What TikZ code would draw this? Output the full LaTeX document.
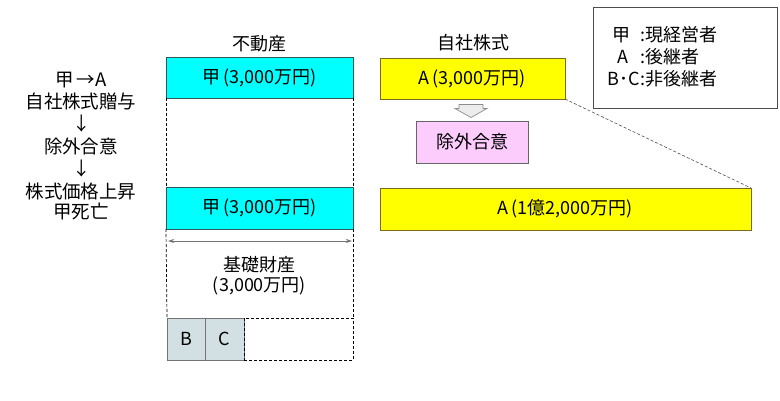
\documentclass[tikz,border=0pt]{standalone}
\usepackage{fontspec}
\setmainfont{Noto Sans CJK JP}
\usetikzlibrary{calc,arrows.meta}
\definecolor{cyanbox}{HTML}{00FFFF}
\definecolor{cyanedge}{HTML}{2A5A5A}
\definecolor{yelbox}{HTML}{FFFF00}
\definecolor{yeledge}{HTML}{7A6A1A}
\definecolor{pinkbox}{HTML}{FCCCFC}
\definecolor{bcbox}{HTML}{D3E0E3}
\definecolor{arrfill}{HTML}{ECECEC}
\begin{document}
\begin{tikzpicture}[x=1pt,y=-1pt,
  every node/.style={inner sep=0pt,outer sep=0pt},
  txt/.style={font=\fontsize{18}{20}\selectfont},
  bigtxt/.style={font=\fontsize{18.5}{20}\selectfont},
  cbox/.style={draw=cyanedge,fill=cyanbox,line width=0.8pt,font=\fontsize{18}{20}\selectfont},
  ybox/.style={draw=yeledge,fill=yelbox,line width=0.8pt,font=\fontsize{18}{20}\selectfont},
  pbox/.style={draw=black!60,fill=pinkbox,line width=0.7pt,font=\fontsize{18}{20}\selectfont},
  gbox/.style={draw=black!55,fill=bcbox,line width=0.7pt,font=\fontsize{18}{20}\selectfont},
  dline/.style={draw=black,line width=0.7pt,dash pattern=on 3pt off 2pt},
  dimarrow/.style={draw=black!55,line width=0.8pt,{Stealth[length=6pt,width=4pt]}-{Stealth[length=6pt,width=4pt]}},
  blockarr/.style={draw=black!45,fill=arrfill,line width=0.7pt,line join=miter}
]
\useasboundingbox (0,0) rectangle (780,400);

% left column
\node[bigtxt] (s1) at (81,80) {甲\,→A};
\node[bigtxt] (s2) at (81,101) {自社株式贈与};
\node[bigtxt] (s3) at (82,124) {↓};
\node[bigtxt] (s4) at (81,146) {除外合意};
\node[bigtxt] (s5) at (82,169) {↓};
\node[bigtxt] (s6) at (81,191) {株式価格上昇};
\node[bigtxt] (s7) at (81,211) {甲死亡};

% headings
\node[txt] (h1) at (259.5,44) {不動産};
\node[txt] (h2) at (473,43) {自社株式};

% real estate column
\node[cbox,minimum width=187pt,minimum height=41pt] (c1) at (259.5,77.5) {甲\hspace{3pt}(3,000万円)};
\node[cbox,minimum width=187pt,minimum height=42pt] (c2) at (259.5,208) {甲\hspace{3pt}(3,000万円)};
\node[gbox,minimum width=38pt,minimum height=42pt] (b) at (186,339) {B};
\node[gbox,minimum width=39pt,minimum height=42pt] (c) at (224.5,339) {C};
\node[dline,minimum width=109pt,minimum height=42pt] (rest) at (298.5,339) {};
\node[txt] (k1) at (259.5,265) {基礎財産};
\node[txt] (k2) at (259.5,286) {(3,000万円)};

\draw[dline] (c1.south west) -- (c2.north west);
\draw[dline] (c1.south east) -- (c2.north east);
\draw[dline] (c2.south west) -- (b.north west);
\draw[dline] (c2.south east) -- (rest.north east);
\coordinate (dl) at ($(c2.south west)+(2,12)$);
\coordinate (dr) at ($(c2.south east)+(-1,12)$);
\draw[dimarrow] (dl) -- (dr);

% shares column
\node[ybox,minimum width=185pt,minimum height=41pt] (y1) at (472.5,78.5) {A\hspace{3pt}(3,000万円)};
\node[pbox,minimum width=112pt,minimum height=42pt] (p) at (472,142) {除外合意};
\node[ybox,minimum width=371pt,minimum height=42pt] (y2) at (565.5,209) {A\hspace{3pt}(1億2,000万円)};
\draw[dline,draw=black!70,line width=0.6pt] (y1.south east) -- (y2.north east);

\coordinate (ba) at ($(y1.south)+(-1.5,5.5)$);
\draw[blockarr] ($(ba)+(-12,0)$) -- ($(ba)+(12,0)$) -- ($(ba)+(12,4)$) -- ($(ba)+(16,4)$)
  -- ($(ba)+(0,13)$) -- ($(ba)+(-16,4)$) -- ($(ba)+(-12,4)$) -- cycle;

% legend
\node[draw=black!70,line width=0.8pt,minimum width=184pt,minimum height=101pt] (leg) at (685,57.5) {};
\node[txt] (l1a) at (621,35) {甲};
\node[txt,anchor=west] (l1b) at (640,35) {:現経営者};
\node[txt] (l2a) at (623,57) {A};
\node[txt,anchor=west] (l2b) at (640,57) {:後継者};
\node[txt] (l3a) at (624,79) {B･C};
\node[txt,anchor=west] (l3b) at (640,79) {:非後継者};
\end{tikzpicture}
\end{document}
